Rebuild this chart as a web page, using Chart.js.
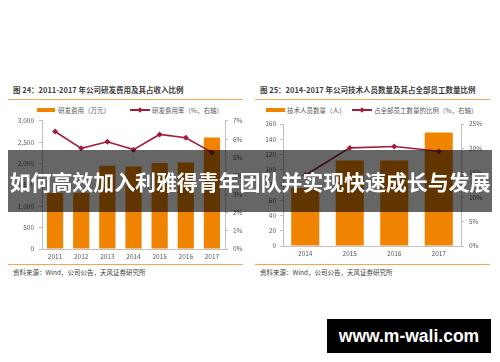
<!DOCTYPE html>
<html>
<head>
<meta charset="utf-8">
<script src="https://cdn.jsdelivr.net/npm/chart.js@4"></script>
<style>
  html, body { margin: 0; padding: 0; background: #fff; }
  body { width: 500px; height: 362px; position: relative; overflow: hidden;
         font-family: "Noto Sans CJK SC", "Noto Sans", sans-serif; }
  .abs { position: absolute; }
  .title { font-size: 7.5px; font-weight: bold; color: #404040; white-space: nowrap; line-height: 10px; }
  .rule { height: 1px; background: #f2a65a; }
  .legtxt { font-size: 6.5px; color: #595959; white-space: nowrap; line-height: 8px; }
  .src { font-size: 6.5px; color: #404040; white-space: nowrap; line-height: 8px; }
  .box { height: 4px; background: #f08400; }
  .ln { height: 1.5px; background: #a01e3c; }
  .dia { width: 4px; height: 4px; background: #a01e3c; transform: rotate(45deg); }
  canvas { position: absolute; }
  #band { left: 8px; top: 150px; width: 484px; height: 62px; background: rgba(0,0,0,0.6);
          color: #fff; font-weight: bold; font-size: 21px; line-height: 62px; text-align: center;
          white-space: nowrap; letter-spacing: -0.1px; }
  #mark { left: 327px; top: 319px; width: 164px; height: 34px; background: #000; color: #fff;
          font-family: "Liberation Sans", Arial, sans-serif; font-weight: bold; font-size: 17.5px;
          line-height: 34px; text-align: center; }
</style>
</head>
<body>
<!-- left chart frame -->
<div class="abs title" style="left:13px; top:85px;">图 24：2011-2017 年公司研发费用及其占收入比例</div>
<div class="abs rule" style="left:8px; top:99px; width:235px;"></div>
<div class="abs box" style="left:37px; top:108px; width:18px;"></div>
<div class="abs legtxt" style="left:58px; top:106px;">研发费用（万元）</div>
<div class="abs ln" style="left:130px; top:109px; width:20px;"></div>
<div class="abs dia" style="left:138px; top:107.5px;"></div>
<div class="abs legtxt" style="left:152px; top:106px;">研发费用率（%，右轴）</div>
<canvas id="c1" width="250" height="152" style="left:0; top:112px;"></canvas>
<div class="abs rule" style="left:8px; top:264px; width:235px;"></div>
<div class="abs src" style="left:13px; top:268px;">资料来源：Wind，公司公告，天风证券研究所</div>

<!-- right chart frame -->
<div class="abs title" style="left:260px; top:85px;">图 25：2014-2017 年公司技术人员数量及其占全部员工数量比例</div>
<div class="abs rule" style="left:255px; top:99px; width:235px;"></div>
<div class="abs box" style="left:266px; top:108px; width:19px;"></div>
<div class="abs legtxt" style="left:287px; top:106px;">技术人员数量（人）</div>
<div class="abs ln" style="left:352px; top:109px; width:20px;"></div>
<div class="abs dia" style="left:360px; top:107.5px;"></div>
<div class="abs legtxt" style="left:374px; top:106px;">占全部员工数量的比例（%，右轴）</div>
<canvas id="c2" width="250" height="152" style="left:250px; top:112px;"></canvas>
<div class="abs rule" style="left:255px; top:264px; width:235px;"></div>
<div class="abs src" style="left:260px; top:268px;">资料来源：Wind，公司公告，天风证券研究所</div>

<div id="band" class="abs">如何高效加入利雅得青年团队并实现快速成长与发展</div>
<div id="mark" class="abs">www.m-wali.com</div>

<script>
// figure 24: R&D spend (10k yuan) and share of revenue (%)
const years1 = ['2011', '2012', '2013', '2014', '2015', '2016', '2017']
const rdSpend = [1310, 1320, 1950, 1935, 2015, 2025, 2610]
const rdRatio = [6.42, 5.50, 5.86, 5.43, 6.26, 6.08, 5.28]

// figure 25: technical staff headcount and share of all staff (%)
const years2 = ['2014', '2015', '2016', '2017']
const techStaff = [76, 112, 112, 149]
const techShare = [14.5, 20.1, 20.4, 19.4]

const ORANGE = '#f08400'
const RED = '#a01e3c'
const AXIS = '#bfbfbf'
const TICK = '#595959'
const FONT = { family: '"Noto Sans CJK SC", "Noto Sans", sans-serif', size: 6.5 }

function makeChart(id, cats, bars, line, opt) {
    const el = document.getElementById(id)
    return new Chart(el, {
        data: {
            labels: cats,
            datasets: [
                {
                    type: 'line', data: line, yAxisID: 'y1', order: 0,
                    borderColor: RED, backgroundColor: RED, borderWidth: 1.6,
                    pointStyle: 'rectRot', pointRadius: 3, pointBackgroundColor: RED,
                    pointBorderWidth: 0, tension: 0,
                },
                {
                    type: 'bar', data: bars, yAxisID: 'y', order: 1,
                    backgroundColor: ORANGE, borderWidth: 0,
                    barPercentage: opt.barPct, categoryPercentage: 1,
                },
            ],
        },
        options: {
            responsive: false,
            animation: false,
            devicePixelRatio: 1,
            layout: { padding: { top: opt.padTop, left: 0, right: 0, bottom: 0 } },
            plugins: { legend: { display: false }, tooltip: { enabled: false } },
            scales: {
                x: {
                    grid: { display: false, drawTicks: false },
                    border: { display: true, color: AXIS },
                    ticks: { color: TICK, font: FONT, padding: opt.xPad, maxRotation: 0 },
                    afterFit: s => { s.height = opt.xH },
                },
                y: {
                    position: 'left',
                    min: 0, max: opt.yMax,
                    grid: { drawOnChartArea: false, drawTicks: true, tickLength: 3, color: AXIS },
                    border: { display: true, color: AXIS },
                    ticks: {
                        stepSize: opt.yStep, color: TICK, font: FONT, padding: opt.yPad,
                        callback: v => v.toLocaleString('en-US'),
                    },
                    afterFit: s => { s.width = opt.yW },
                },
                y1: {
                    position: 'right',
                    min: 0, max: opt.y1Max,
                    grid: { drawOnChartArea: false, drawTicks: true, tickLength: 3, color: AXIS },
                    border: { display: true, color: AXIS },
                    ticks: {
                        stepSize: opt.y1Step, color: TICK, font: FONT, padding: 5,
                        callback: v => v + '%',
                    },
                    afterFit: s => { s.width = opt.y1W },
                },
            },
        },
    })
}

makeChart('c1', years1, rdSpend, rdRatio, {
    barPct: 0.62, padTop: 8, xPad: 4, xH: 15,
    yMax: 3000, yStep: 500, yW: 42, yPad: 5,
    y1Max: 7, y1Step: 1, y1W: 25,
})

makeChart('c2', years2, techStaff, techShare, {
    barPct: 0.63, padTop: 12, xPad: 4, xH: 18,
    yMax: 160, yStep: 20, yW: 33, yPad: 4,
    y1Max: 25, y1Step: 5, y1W: 39,
})
</script>
</body>
</html>
